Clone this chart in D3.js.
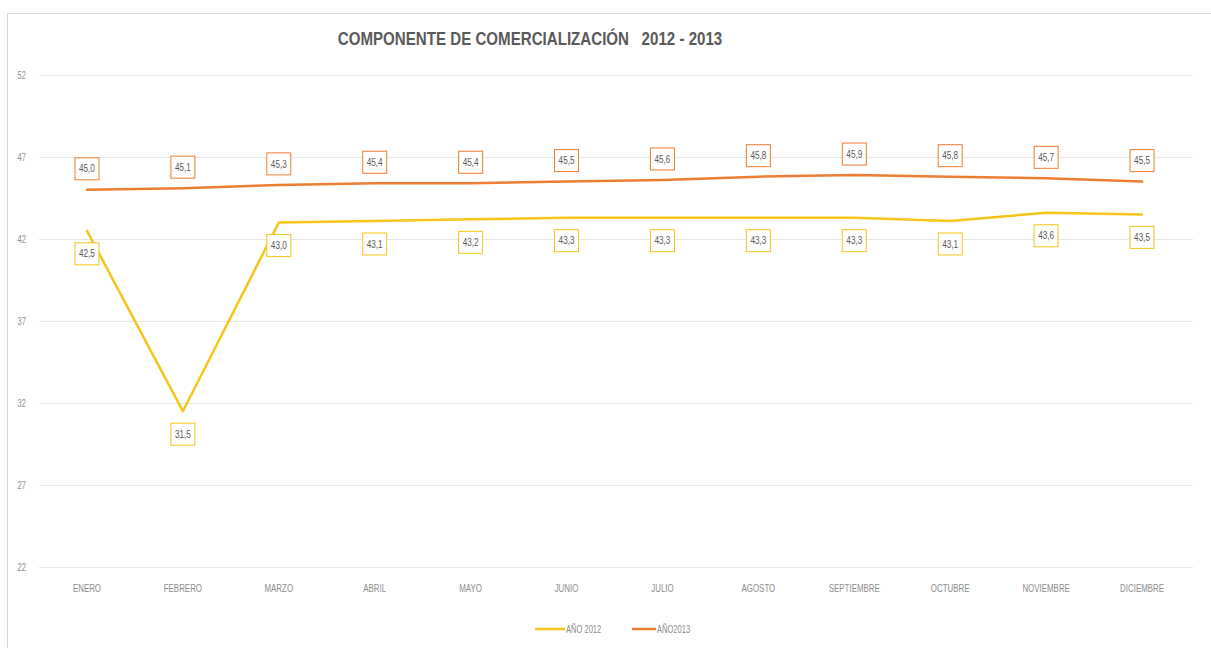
<!DOCTYPE html>
<html>
<head>
<meta charset="utf-8">
<script src="https://cdn.jsdelivr.net/npm/d3@7"></script>
<style>
  html, body { margin: 0; padding: 0; background: #ffffff; }
  svg { display: block; }
</style>
</head>
<body>
<svg id="chart" width="1211" height="648"></svg>
<script>
// Monthly values of the commercialization component, 2012 and 2013
const months = ["ENERO", "FEBRERO", "MARZO", "ABRIL", "MAYO", "JUNIO", "JULIO",
  "AGOSTO", "SEPTIEMBRE", "OCTUBRE", "NOVIEMBRE", "DICIEMBRE"];
const values2012 = [42.5, 31.5, 43.0, 43.1, 43.2, 43.3, 43.3, 43.3, 43.3, 43.1, 43.6, 43.5];
const values2013 = [45.0, 45.1, 45.3, 45.4, 45.4, 45.5, 45.6, 45.8, 45.9, 45.8, 45.7, 45.5];
const yTicks = [22, 27, 32, 37, 42, 47, 52];
const seriesNames = ["AÑO 2012", "AÑO2013"];
const titleText = "COMPONENTE DE COMERCIALIZACIÓN   2012 - 2013";

const color2012 = "#F5C518";
const color2013 = "#ED7D31";
const font = "'Liberation Sans', Arial, sans-serif";
const squeeze = "scale(0.72,1)"; // condensed lettering

const svg = d3.select("#chart");

// chart frame
svg.append("rect")
  .attr("x", 7.5).attr("y", 13.5)
  .attr("width", 1220).attr("height", 660)
  .attr("fill", "#fff")
  .attr("stroke", "#d9d9d9")
  .attr("stroke-width", 1);

const x = d3.scaleBand().domain(months).range([39, 1190]);
const y = d3.scaleLinear().domain([22, 52]).range([567, 75]);

// gridlines
svg.append("g")
  .selectAll("line")
  .data(yTicks)
  .join("line")
  .attr("x1", 39).attr("x2", 1193)
  .attr("y1", d => Math.round(y(d)) + 0.5)
  .attr("y2", d => Math.round(y(d)) + 0.5)
  .attr("stroke", "#e6e6e6")
  .attr("stroke-width", 1);

// y axis labels
const yAxis = d3.axisLeft(y).tickValues(yTicks).tickSize(0).tickPadding(0);
svg.append("g")
  .attr("transform", "translate(26,0)")
  .call(yAxis)
  .call(g => g.select(".domain").remove())
  .call(g => g.selectAll("text")
    .attr("fill", "#8c8c8c")
    .attr("font-family", font)
    .attr("font-size", 10.5)
    .attr("transform", squeeze));

// x axis labels
const xAxis = d3.axisBottom(x).tickSize(0).tickPadding(0);
svg.append("g")
  .attr("transform", "translate(0,584)")
  .call(xAxis)
  .call(g => g.select(".domain").remove())
  .call(g => g.selectAll("text")
    .attr("fill", "#8c8c8c")
    .attr("font-family", font)
    .attr("font-size", 11)
    .attr("dy", "0.71em")
    .attr("transform", squeeze));

// title
svg.append("g")
  .attr("transform", "translate(530,45)")
  .append("text")
  .attr("transform", "scale(0.84,1)")
  .attr("text-anchor", "middle")
  .attr("font-family", font)
  .attr("font-weight", "bold")
  .attr("font-size", 18)
  .attr("fill", "#595959")
  .style("white-space", "pre")
  .text(titleText);

const cx = d => x(d) + x.bandwidth() / 2;
const line = d3.line()
  .x((d, i) => cx(months[i]))
  .y(d => y(d));

const series = [
  { name: seriesNames[1], values: values2013, color: color2013, offset: -21 },
  { name: seriesNames[0], values: values2012, color: color2012, offset: 23 }
];

series.forEach(s => {
  svg.append("path")
    .datum(s.values)
    .attr("fill", "none")
    .attr("stroke", s.color)
    .attr("stroke-width", 2.5)
    .attr("stroke-linejoin", "round")
    .attr("stroke-linecap", "round")
    .attr("d", line);
});

// value labels in boxes
series.forEach(s => {
  const g = svg.append("g");
  const lab = g.selectAll("g")
    .data(s.values)
    .join("g")
    .attr("transform", (d, i) => `translate(${cx(months[i])},${y(d) + s.offset})`);
  lab.append("rect")
    .attr("x", -12).attr("y", -11)
    .attr("width", 24).attr("height", 22)
    .attr("fill", "#fff")
    .attr("stroke", s.color)
    .attr("stroke-width", 1);
  lab.append("text")
    .attr("text-anchor", "middle")
    .attr("dy", "0.35em")
    .attr("transform", "scale(0.78,1)")
    .attr("font-family", font)
    .attr("font-size", 10.5)
    .attr("fill", "#595959")
    .text(d => d.toFixed(1).replace(".", ","));
});

// legend
const legendItems = [
  { name: seriesNames[0], color: color2012, x: 535, w: 30 },
  { name: seriesNames[1], color: color2013, x: 632, w: 24 }
];
legendItems.forEach(it => {
  const g = svg.append("g").attr("transform", `translate(${it.x},629)`);
  g.append("line")
    .attr("x1", 0).attr("x2", it.w)
    .attr("stroke", it.color)
    .attr("stroke-width", 2.5);
  g.append("g")
    .attr("transform", `translate(${it.w + 1},0)`)
    .append("text")
    .attr("transform", squeeze)
    .attr("dy", "0.35em")
    .attr("font-family", font)
    .attr("font-size", 10.5)
    .attr("fill", "#8c8c8c")
    .text(it.name);
});
</script>
</body>
</html>
